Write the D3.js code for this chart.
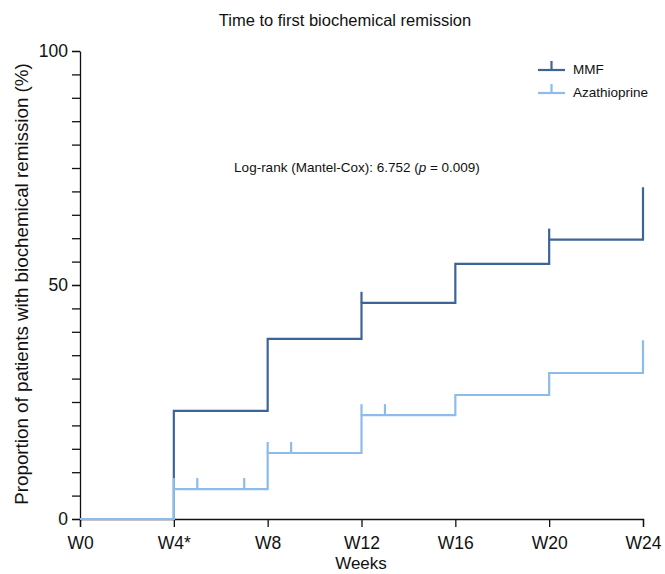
<!DOCTYPE html>
<html>
<head>
<meta charset="utf-8">
<script src="https://cdn.jsdelivr.net/npm/d3@7"></script>
<style>
  body { margin: 0; background: #fff; }
  text { font-family: Arial, "Liberation Sans", sans-serif; fill: #111; }
</style>
</head>
<body>
<svg id="drawing_region"></svg>
<script>
// weeks and cumulative proportion (%) with remission
const weekTicks = [0, 4, 8, 12, 16, 20, 24];
const weekLabels = ["W0", "W4*", "W8", "W12", "W16", "W20", "W24"];

const mmfWeeks = [0, 4, 8, 12, 16, 20, 24];
const mmfValues = [0, 23.1, 38.5, 46.2, 54.5, 59.7, 70.9];
const mmfCensorWeeks = [12, 20];

const azaWeeks = [0, 4, 8, 12, 16, 20, 24];
const azaValues = [0, 6.4, 14.1, 22.2, 26.5, 31.2, 38.2];
const azaCensorWeeks = [4, 5, 7, 8, 9, 12, 13];

const seriesNames = ["MMF", "Azathioprine"];
const seriesColors = ["#3c6595", "#8dbbea"];

const config = {
    width: 665,
    height: 574,
    margin: {top: 51, right: 22, bottom: 55, left: 80}
};

const svg = d3.select('#drawing_region')
    .attr('width', config.width)
    .attr('height', config.height);

const inner_width = config.width - config.margin.left - config.margin.right;
const inner_height = config.height - config.margin.top - config.margin.bottom;

const chart = svg.append('g')
    .attr('transform', `translate(${config.margin.left}, ${config.margin.top})`);

const xscale = d3.scaleLinear().domain([0, 24]).range([0, inner_width]);
const yscale = d3.scaleLinear().domain([0, 100]).range([inner_height, 0]);

// axes
const xaxis = d3.axisBottom(xscale)
    .tickValues(weekTicks)
    .tickFormat((d, i) => weekLabels[i])
    .tickSizeOuter(0)
    .tickSize(8)
    .tickPadding(10);

const xg = chart.append('g')
    .attr('transform', `translate(0, ${inner_height})`)
    .call(xaxis);

const yminor = d3.axisLeft(yscale)
    .tickValues(d3.range(0, 101, 5))
    .tickFormat('')
    .tickSize(8)
    .tickSizeOuter(0);
chart.append('g').call(yminor);

const ymajor = d3.axisLeft(yscale)
    .tickValues([0, 50, 100])
    .tickSize(8)
    .tickPadding(4)
    .tickSizeOuter(0);
const yg = chart.append('g').call(ymajor);
yg.select('.domain').remove();

chart.selectAll('.tick text')
    .style('font-size', '17.5px')
    .style('font-family', 'Arial, "Liberation Sans", sans-serif')
    .attr('fill', '#111');
chart.selectAll('.domain, .tick line').attr('stroke', '#111').attr('stroke-width', 1.3);

// step curves
const line = d3.line()
    .x(d => xscale(d[0]))
    .y(d => yscale(d[1]))
    .curve(d3.curveStepAfter);

const series = [
    {weeks: mmfWeeks, values: mmfValues, censor: mmfCensorWeeks},
    {weeks: azaWeeks, values: azaValues, censor: azaCensorWeeks}
];

const stepValue = (s, w) => {
    let v = 0;
    s.weeks.forEach((t, i) => { if (t <= w) v = s.values[i]; });
    return v;
};

series.forEach((s, k) => {
    const pts = s.weeks.map((w, i) => [w, s.values[i]]);
    chart.append('path')
        .datum(pts)
        .attr('d', line)
        .attr('fill', 'none')
        .attr('stroke', seriesColors[k])
        .attr('stroke-width', 2.2);

    chart.selectAll(null)
        .data(s.censor)
        .enter()
        .append('line')
        .attr('x1', d => xscale(d))
        .attr('x2', d => xscale(d))
        .attr('y1', d => yscale(stepValue(s, d)))
        .attr('y2', d => yscale(stepValue(s, d)) - 11)
        .attr('stroke', seriesColors[k])
        .attr('stroke-width', 2.2);
});

// legend
const legend = svg.append('g').attr('transform', 'translate(538, 70)');
seriesNames.forEach((name, i) => {
    const g = legend.append('g').attr('transform', `translate(0, ${i * 23})`);
    g.append('line').attr('x1', 0).attr('x2', 27).attr('y1', 0).attr('y2', 0)
        .attr('stroke', seriesColors[i]).attr('stroke-width', 2.2);
    g.append('line').attr('x1', 13.5).attr('x2', 13.5).attr('y1', 0).attr('y2', -9)
        .attr('stroke', seriesColors[i]).attr('stroke-width', 2.2);
    g.append('text').attr('x', 35).attr('y', 4)
        .style('font-size', '13.5px')
        .text(name);
});

// titles
svg.append('text')
    .attr('x', 345).attr('y', 26)
    .attr('text-anchor', 'middle')
    .style('font-size', '16.5px')
    .text('Time to first biochemical remission');

svg.append('text')
    .attr('x', 361).attr('y', 569)
    .attr('text-anchor', 'middle')
    .style('font-size', '17px')
    .text('Weeks');

svg.append('text')
    .attr('transform', 'translate(28, 284) rotate(-90)')
    .attr('text-anchor', 'middle')
    .style('font-size', '18.8px')
    .text('Proportion of patients with biochemical remission (%)');

const note = svg.append('text')
    .attr('x', 357).attr('y', 172)
    .attr('text-anchor', 'middle')
    .style('font-size', '13.5px');
note.append('tspan').text('Log-rank (Mantel-Cox): 6.752 (');
note.append('tspan').style('font-style', 'italic').text('p');
note.append('tspan').text(' = 0.009)');
</script>
</body>
</html>
